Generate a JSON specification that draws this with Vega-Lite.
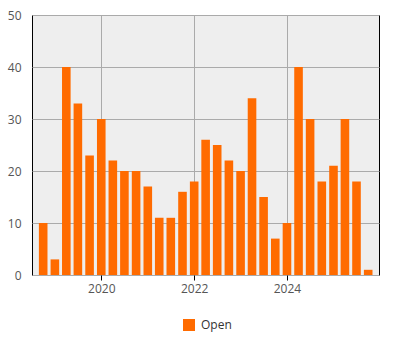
{
  "$schema": "https://vega.github.io/schema/vega-lite/v6.json",
  "width": 347,
  "height": 260,
  "autosize": "none",
  "padding": {"left": 32, "top": 15, "right": 21, "bottom": 75},
  "background": "white",
  "config": {
    "view": {"fill": "#eeeeee", "stroke": "black", "strokeWidth": 1},
    "font": "Open Sans"
  },
  "data": {
    "values": [
      {"date": "2018-10-01", "count": 10, "series": "Open"},
      {"date": "2019-01-01", "count": 3, "series": "Open"},
      {"date": "2019-04-01", "count": 40, "series": "Open"},
      {"date": "2019-07-01", "count": 33, "series": "Open"},
      {"date": "2019-10-01", "count": 23, "series": "Open"},
      {"date": "2020-01-01", "count": 30, "series": "Open"},
      {"date": "2020-04-01", "count": 22, "series": "Open"},
      {"date": "2020-07-01", "count": 20, "series": "Open"},
      {"date": "2020-10-01", "count": 20, "series": "Open"},
      {"date": "2021-01-01", "count": 17, "series": "Open"},
      {"date": "2021-04-01", "count": 11, "series": "Open"},
      {"date": "2021-07-01", "count": 11, "series": "Open"},
      {"date": "2021-10-01", "count": 16, "series": "Open"},
      {"date": "2022-01-01", "count": 18, "series": "Open"},
      {"date": "2022-04-01", "count": 26, "series": "Open"},
      {"date": "2022-07-01", "count": 25, "series": "Open"},
      {"date": "2022-10-01", "count": 22, "series": "Open"},
      {"date": "2023-01-01", "count": 20, "series": "Open"},
      {"date": "2023-04-01", "count": 34, "series": "Open"},
      {"date": "2023-07-01", "count": 15, "series": "Open"},
      {"date": "2023-10-01", "count": 7, "series": "Open"},
      {"date": "2024-01-01", "count": 10, "series": "Open"},
      {"date": "2024-04-01", "count": 40, "series": "Open"},
      {"date": "2024-07-01", "count": 30, "series": "Open"},
      {"date": "2024-10-01", "count": 18, "series": "Open"},
      {"date": "2025-01-01", "count": 21, "series": "Open"},
      {"date": "2025-04-01", "count": 30, "series": "Open"},
      {"date": "2025-07-01", "count": 18, "series": "Open"},
      {"date": "2025-10-01", "count": 1, "series": "Open"}
    ]
  },
  "mark": {"type": "bar", "width": 8.6},
  "encoding": {
    "x": {
      "field": "date",
      "type": "temporal",
      "scale": {
        "type": "utc",
        "nice": false,
        "padding": 0,
        "domain": [
          {"year": 2018, "month": 7, "date": 5, "utc": true},
          {"year": 2025, "month": 12, "date": 25, "utc": true}
        ]
      },
      "axis": {
        "title": null,
        "values": [
          {"year": 2020, "month": 1, "date": 1, "utc": true},
          {"year": 2022, "month": 1, "date": 1, "utc": true},
          {"year": 2024, "month": 1, "date": 1, "utc": true}
        ],
        "format": "%Y",
        "domain": false,
        "ticks": true,
        "tickSize": 5,
        "tickColor": "black",
        "labelPadding": 3,
        "labelFontSize": 12,
        "labelColor": "#555555",
        "grid": true,
        "gridColor": "#aaaaaa",
        "gridWidth": 1
      }
    },
    "y": {
      "field": "count",
      "type": "quantitative",
      "scale": {"domain": [0, 50], "nice": false},
      "axis": {
        "title": null,
        "values": [0, 10, 20, 30, 40, 50],
        "domain": false,
        "ticks": false,
        "labelPadding": 11,
        "labelFontSize": 12,
        "labelColor": "#555555",
        "grid": true,
        "gridColor": "#aaaaaa",
        "gridWidth": 1
      }
    },
    "color": {
      "field": "series",
      "type": "nominal",
      "scale": {"range": ["#ff6b00"]},
      "legend": {
        "title": null,
        "orient": "none",
        "legendX": 151,
        "legendY": 304,
        "symbolType": "square",
        "symbolSize": 144,
        "symbolStrokeWidth": 0,
        "labelFontSize": 12,
        "labelColor": "#333333",
        "labelOffset": 6
      }
    }
  }
}
